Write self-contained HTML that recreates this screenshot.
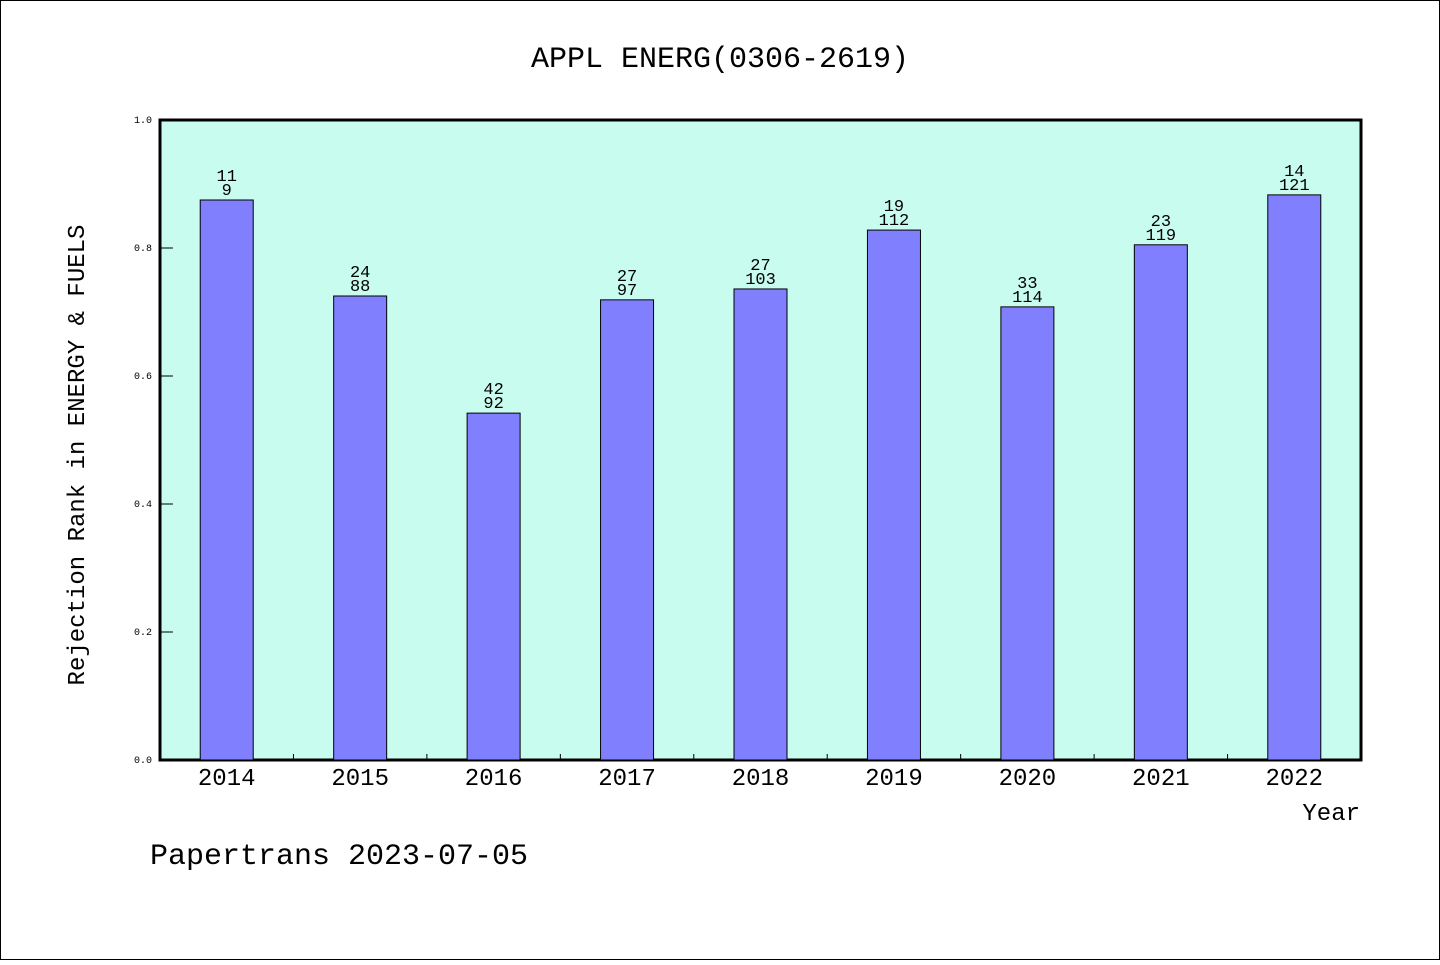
<!DOCTYPE html>
<html><head><meta charset="utf-8"><style>
body{margin:0;background:#fff}
svg text{font-family:"WenQuanYi Zen Hei","Liberation Mono",monospace;fill:#000}
</style></head><body>
<svg id="c" width="1440" height="960" xmlns="http://www.w3.org/2000/svg">
<rect x="0.5" y="0.5" width="1439" height="959" fill="#fff" stroke="#000"/>
<text x="720" y="67" font-size="30" text-anchor="middle">APPL ENERG(0306-2619)</text>
<rect x="160" y="120" width="1201" height="640" fill="#c8fcee" stroke="#000" stroke-width="3"/>
<g id="bars"></g>
<text x="84" y="455" font-size="24" text-anchor="middle" transform="rotate(-90 84 455)">Rejection Rank in ENERGY &amp; FUELS</text>
<text x="1360" y="820" font-size="24" text-anchor="end">Year</text>
<text x="150" y="864" font-size="30">Papertrans 2023-07-05</text>
</svg>
<script>
const categories=["2014","2015","2016","2017","2018","2019","2020","2021","2022"];
const values=[0.875,0.725,0.542,0.719,0.736,0.828,0.708,0.805,0.883];
const topLabels=["11","24","42","27","27","19","33","23","14"];
const bottomLabels=["9","88","92","97","103","112","114","119","121"];
const yTicks=[0,0.2,0.4,0.6,0.8,1.0];
const x0=160,w=1201,y0=760,h=640,ns="http://www.w3.org/2000/svg";
const band=w/categories.length;
const ys=v=>y0-v*h;
const g=document.getElementById('bars');
function mk(t,a,txt){const e=document.createElementNS(ns,t);for(const k in a)e.setAttribute(k,a[k]);if(txt!=null)e.textContent=txt;g.appendChild(e);return e;}
yTicks.forEach(t=>{
 const l=mk('line',{x1:x0,x2:x0+13,y1:ys(t),y2:ys(t),stroke:'#000'});
 
 
 const tx=mk('text',{x:x0-8,y:ys(t)+3,'font-size':10,'text-anchor':'end'},t.toFixed(1));
 
 
});
categories.forEach((c,i)=>{
 const cx=x0+band*(i+0.5),bw=53;
 const r=mk('rect',{x:cx-bw/2,y:ys(values[i]),width:bw,height:values[i]*h,fill:'#8080ff',stroke:'#000'});
 
 
 const a=mk('text',{x:cx,y:ys(values[i])-19,'font-size':17,'text-anchor':'middle'},topLabels[i]);
 
 
 const b=mk('text',{x:cx,y:ys(values[i])-5,'font-size':17,'text-anchor':'middle'},bottomLabels[i]);
 
 
 const xl=mk('text',{x:cx,y:785,'font-size':24,'text-anchor':'middle'},c);
 
 
 if(i>0){const tk=mk('line',{x1:x0+band*i,x2:x0+band*i,y1:y0,y2:y0-6,stroke:'#000'});
 
 }
});
</script>
</body></html>
